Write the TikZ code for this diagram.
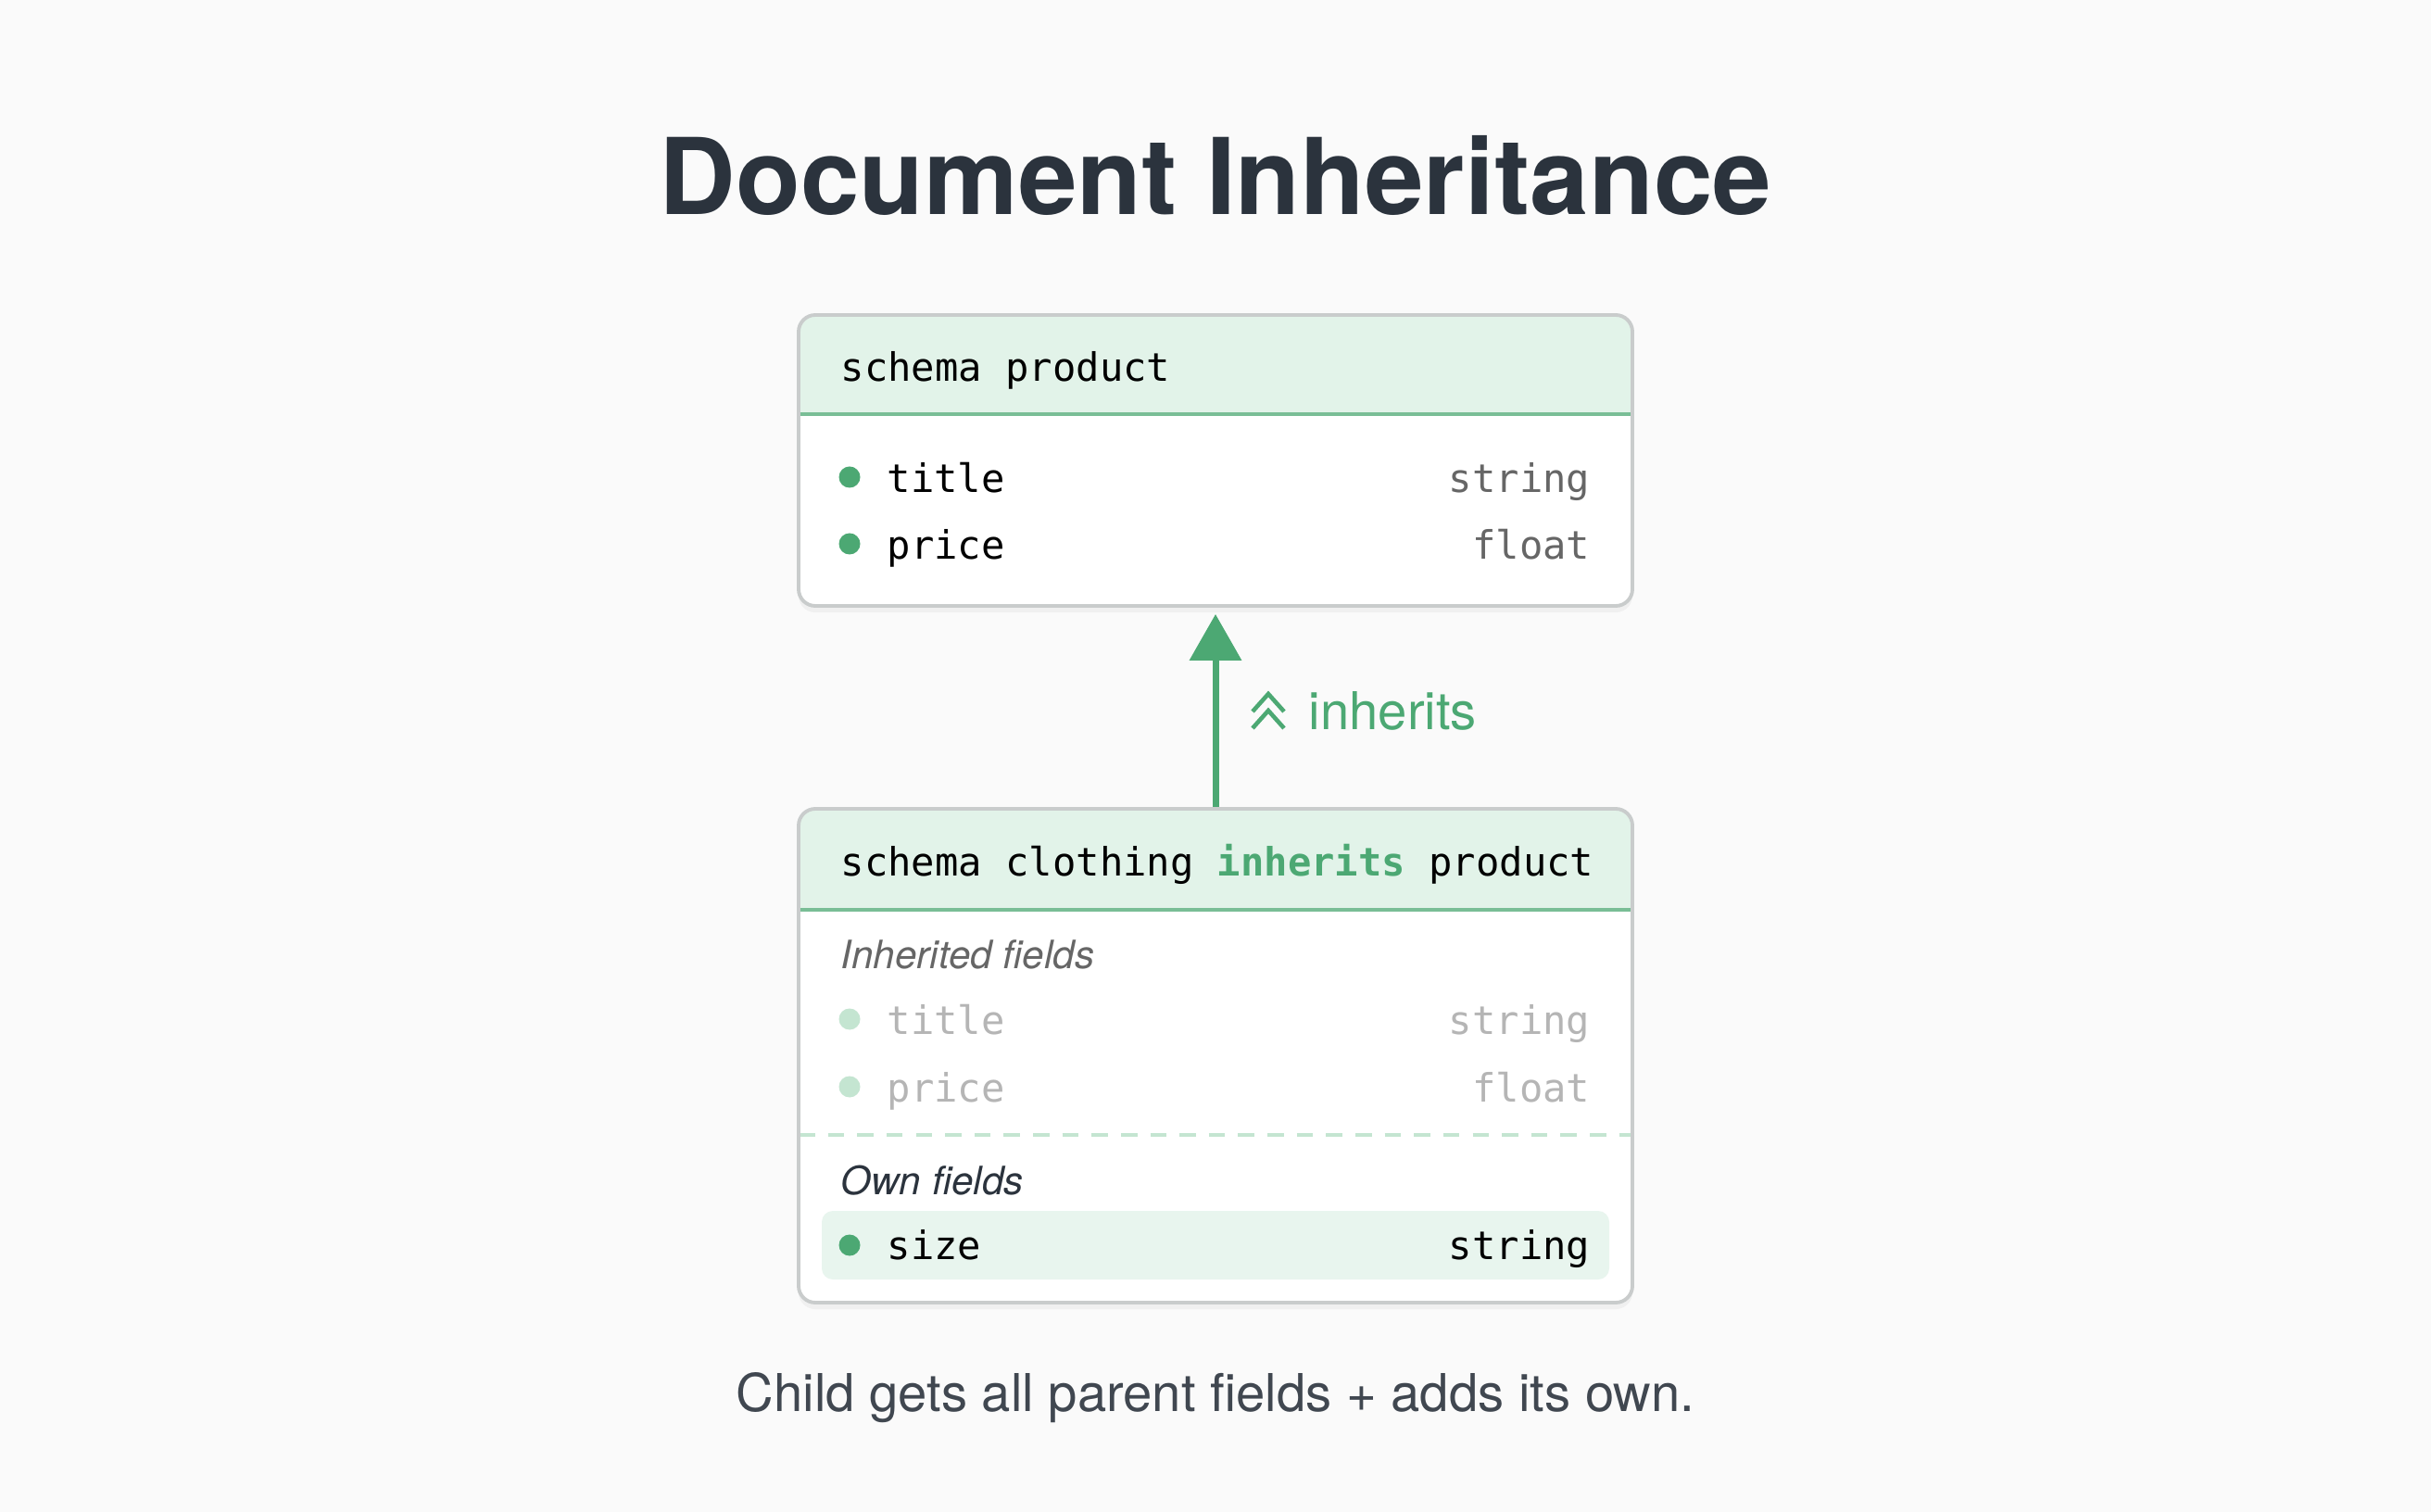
\documentclass[tikz,border=0pt]{standalone}
\usepackage{fontspec}
\setmainfont{TeX Gyre Heros}
\setmonofont{DejaVu Sans Mono}
\usetikzlibrary{arrows.meta}
\definecolor{paper}{HTML}{FAFAFA}
\definecolor{ink}{HTML}{2B333D}
\definecolor{leaf}{HTML}{4CA873}
\definecolor{headfill}{HTML}{E2F3E9}
\definecolor{rowfill}{HTML}{E8F5EE}
\definecolor{fade}{HTML}{C4E5D1}
\definecolor{edge}{HTML}{C9CCCC}
\definecolor{typegray}{HTML}{666666}
\definecolor{ghost}{HTML}{B5B5B5}
\tikzset{
  card/.style={draw=edge, line width=1.1pt, rounded corners=0.18cm, inner sep=0},
  codetext/.style={anchor=mid west, inner sep=0, font=\ttfamily\fontsize{12}{14}\selectfont},
  typetext/.style={anchor=mid east, inner sep=0, font=\ttfamily\fontsize{12}{14}\selectfont, text=typegray},
  dot/.style={circle, fill=leaf, inner sep=0, minimum size=0.23cm},
  section/.style={anchor=mid west, inner sep=0, font=\itshape\fontsize{12}{14}\selectfont}
}
\begin{document}
\begin{tikzpicture}[x=1cm,y=-1cm]
\fill[paper] (0,0) rectangle (26.24,16.32);
\node[font=\bfseries\fontsize{32.5}{38}\selectfont, text=ink] (title) at (13.12,1.89) {Document Inheritance};

\fill[black!6, rounded corners=0.18cm] (8.62,3.47) rectangle (17.62,6.61);
\fill[white, rounded corners=0.18cm] (8.62,3.40) rectangle (17.62,6.54);
\begin{scope}
\clip[rounded corners=0.18cm] (8.62,3.40) rectangle (17.62,6.54);
\fill[headfill] (8.62,3.40) rectangle (17.62,4.47);
\end{scope}
\draw[leaf!75, line width=1.1pt] (8.62,4.47) -- (17.62,4.47);
\node[card, minimum width=9cm, minimum height=3.14cm] (parent) at (13.12,4.97) {};
\node[codetext] (phead) at (9.07,4.02) {schema product};
\node[dot] (pdot1) at (9.17,5.15) {};
\node[codetext] (pname1) at (9.57,5.22) {title};
\node[typetext] (ptype1) at (17.17,5.22) {string};
\node[dot] (pdot2) at (9.17,5.87) {};
\node[codetext] (pname2) at (9.57,5.94) {price};
\node[typetext] (ptype2) at (17.17,5.94) {float};

\fill[black!6, rounded corners=0.18cm] (8.62,8.80) rectangle (17.62,14.13);
\fill[white, rounded corners=0.18cm] (8.62,8.73) rectangle (17.62,14.06);
\begin{scope}
\clip[rounded corners=0.18cm] (8.62,8.73) rectangle (17.62,14.06);
\fill[headfill] (8.62,8.73) rectangle (17.62,9.82);
\end{scope}
\draw[leaf!75, line width=1.1pt] (8.62,9.82) -- (17.62,9.82);
\draw[fade, line width=1.1pt, dash pattern=on 5pt off 4pt] (8.62,12.25) -- (17.62,12.25);
\fill[rowfill, rounded corners=0.12cm] (8.87,13.07) rectangle (17.37,13.81);
\node[card, minimum width=9cm, minimum height=5.33cm] (child) at (13.12,11.395) {};
\node[codetext] (chead) at (9.07,9.36) {schema clothing \textcolor{leaf}{\bfseries inherits} product};
\node[section, text=typegray] (inhsec) at (9.07,10.36) {Inherited fields};
\node[dot, fill=fade] (cdot1) at (9.17,11.00) {};
\node[codetext, text=ghost] (cname1) at (9.57,11.07) {title};
\node[typetext, text=ghost] (ctype1) at (17.17,11.07) {string};
\node[dot, fill=fade] (cdot2) at (9.17,11.73) {};
\node[codetext, text=ghost] (cname2) at (9.57,11.80) {price};
\node[typetext, text=ghost] (ctype2) at (17.17,11.80) {float};
\node[section, text=ink] (ownsec) at (9.07,12.80) {Own fields};
\node[dot] (cdot3) at (9.17,13.44) {};
\node[codetext] (cname3) at (9.57,13.50) {size};
\node[typetext, text=black] (ctype3) at (17.17,13.50) {string};

\draw[leaf, line width=2pt, -{Triangle[length=0.5cm, width=0.55cm]}, shorten >=0.07cm] (child.north) -- (parent.south);
\draw[leaf, line width=1.3pt] (13.52,7.68) -- (13.69,7.49) -- (13.86,7.68);
\draw[leaf, line width=1.3pt] (13.52,7.86) -- (13.69,7.67) -- (13.86,7.86);
\node[anchor=mid west, inner sep=0, text=leaf, font=\fontsize{16}{19}\selectfont] (inhlabel) at (14.12,7.78) {inherits};

\node[font=\fontsize{16}{19}\selectfont, text=ink!90] (caption) at (13.12,15.09) {Child gets all parent fields + adds its own.};
\end{tikzpicture}
\end{document}
